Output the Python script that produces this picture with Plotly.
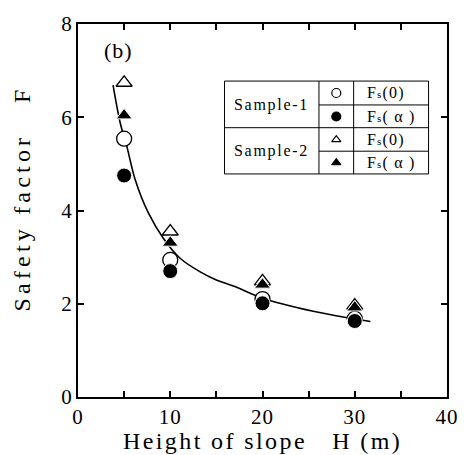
import plotly.graph_objects as go

# ---- data ----
H = [5, 10, 20, 30]
s1_fs0 = [5.54, 2.94, 2.10, 1.68]
s1_fsa = [4.75, 2.70, 2.01, 1.63]
s2_fs0 = [6.74, 3.55, 2.48, 1.96]
s2_fsa = [6.04, 3.31, 2.41, 1.92]

curve_x = [3.8, 4.6, 5.3, 6.2, 7.6, 9.3, 11.1, 13.2, 15.0, 17.0, 20.0, 25.5, 29.5, 31.7]
curve_y = [6.69, 5.86, 5.37, 4.66, 3.96, 3.39, 2.97, 2.69, 2.51, 2.37, 2.12, 1.84, 1.69, 1.62]

x_ticks = [0, 5, 10, 15, 20, 25, 30, 35, 40]
x_ticklabels = ['0', '', '10', '', '20', '', '30', '', '40']
y_ticks = [0, 2, 4, 6, 8]
y_ticklabels = ['0', '2', '4', '6', '8']

FONT = "Liberation Serif, Times New Roman, serif"


def ls(t, px):
    return f'<span style="letter-spacing:{px}px">{t}</span>'


fig = go.Figure()

fig.add_trace(go.Scatter(x=curve_x, y=curve_y, mode='lines', line=dict(color='black', width=1.6, shape='spline'),
                         showlegend=False, hoverinfo='skip'))

fig.add_trace(go.Scatter(x=H, y=s1_fs0, mode='markers', showlegend=False,
                         marker=dict(symbol='circle', size=15, color='white', line=dict(color='black', width=1.3))))
fig.add_trace(go.Scatter(x=H, y=s1_fsa, mode='markers', showlegend=False,
                         marker=dict(symbol='circle', size=15, color='black', line=dict(color='white', width=1))))
fig.add_trace(go.Scatter(x=H, y=s2_fs0, mode='markers', showlegend=False,
                         marker=dict(symbol='triangle-up', size=14, color='white', line=dict(color='black', width=1.3))))
fig.add_trace(go.Scatter(x=H, y=s2_fsa, mode='markers', showlegend=False,
                         marker=dict(symbol='triangle-up', size=14, color='black', line=dict(color='white', width=1))))

# ---- legend table (paper coords) ----
bx0, bx1 = 0.397, 0.950
c1, c2 = 0.653, 0.747
by0, by1 = 0.598, 0.847
ymid = 0.722
r1, r3 = 0.783, 0.659
lc = dict(color='black', width=1)
shapes = [
    dict(type='rect', xref='paper', yref='paper', x0=bx0, x1=bx1, y0=by0, y1=by1, line=lc),
    dict(type='line', xref='paper', yref='paper', x0=c1, x1=c1, y0=by0, y1=by1, line=lc),
    dict(type='line', xref='paper', yref='paper', x0=c2, x1=c2, y0=by0, y1=by1, line=lc),
    dict(type='line', xref='paper', yref='paper', x0=bx0, x1=bx1, y0=ymid, y1=ymid, line=lc),
    dict(type='line', xref='paper', yref='paper', x0=c1, x1=bx1, y0=r1, y1=r1, line=lc),
    dict(type='line', xref='paper', yref='paper', x0=c1, x1=bx1, y0=r3, y1=r3, line=lc),
]

row_y = [0.815, 0.752, 0.690, 0.628]
key_x = (c1 + c2) / 2
key_syms = ['circle', 'circle', 'triangle-up', 'triangle-up']
key_fill = ['white', 'black', 'white', 'black']
key_size = [9, 9, 8, 8]
for yy, sym, fc, sz in zip(row_y, key_syms, key_fill, key_size):
    fig.add_trace(go.Scatter(x=[key_x], y=[yy], xaxis='x2', yaxis='y2', mode='markers', showlegend=False,
                             hoverinfo='skip',
                             marker=dict(symbol=sym, size=sz, color=fc, line=dict(color='black', width=1.2))))

sub = '<span style="font-size:11px">s</span>'
row_labels = [f'F{sub}(0)', f'F{sub}( α )', f'F{sub}(0)', f'F{sub}( α )']
annots = []
for yy, t in zip(row_y, row_labels):
    annots.append(dict(xref='paper', yref='paper', x=0.777, y=yy, text=ls(t, 1.2), showarrow=False,
                       xanchor='left', yanchor='middle', font=dict(family=FONT, size=16, color='black')))
for yy, t in zip([r1, r3], ['Sample-1', 'Sample-2']):
    annots.append(dict(xref='paper', yref='paper', x=(bx0 + c1) / 2, y=yy, text=ls(t, 1.7), showarrow=False,
                       xanchor='center', yanchor='middle', font=dict(family=FONT, size=16, color='black')))
annots.append(dict(xref='paper', yref='paper', x=0.11, y=0.928, text=ls('(b)', 1), showarrow=False,
                   xanchor='center', yanchor='middle', font=dict(family=FONT, size=22, color='black')))
# axis titles
annots.append(dict(xref='paper', yref='paper', x=0.5, y=0, yshift=-44, text=ls('Height of slope   H (m)', 2.4),
                   showarrow=False, xanchor='center', yanchor='middle', font=dict(family=FONT, size=24, color='black')))
annots.append(dict(xref='paper', yref='paper', x=0, y=0.532, xshift=-56, text=ls('Safety factor   F', 4.2),
                   showarrow=False, xanchor='center', yanchor='middle', textangle=-90,
                   font=dict(family=FONT, size=24, color='black')))

axis_common = dict(showline=True, linewidth=2, linecolor='black', mirror='ticks', ticks='inside', ticklen=6,
                   tickwidth=2, tickcolor='black', showgrid=False, zeroline=False,
                   tickfont=dict(family=FONT, size=21, color='black'))

fig.update_layout(
    width=471, height=455,
    margin=dict(l=78, r=13, t=19, b=58),
    paper_bgcolor='white', plot_bgcolor='white',
    xaxis=dict(range=[0, 40], tickmode='array', tickvals=x_ticks,
               ticktext=[ls(t, 1) for t in x_ticklabels], **axis_common),
    yaxis=dict(range=[0, 8], tickmode='array', tickvals=y_ticks,
               ticktext=y_ticklabels, **axis_common),
    xaxis2=dict(range=[0, 1], overlaying='x', visible=False),
    yaxis2=dict(range=[0, 1], overlaying='y', visible=False),
    shapes=shapes,
    annotations=annots,
)

fig.write_html("out.html")
